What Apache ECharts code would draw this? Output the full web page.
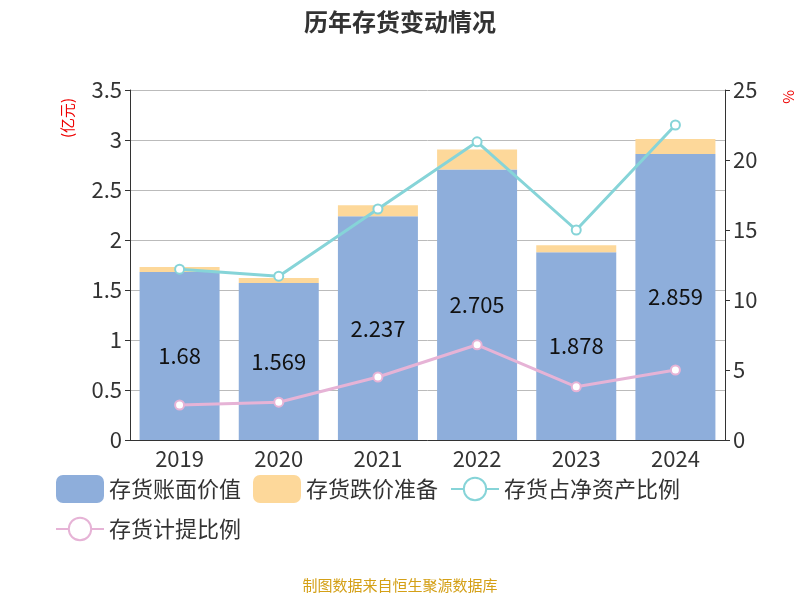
<!DOCTYPE html><html><head><meta charset="utf-8"><script src="https://cdn.jsdelivr.net/npm/echarts@6/dist/echarts.min.js"></script></head><body style="margin:0"><div id="c" style="width:800px;height:600px"></div><script>
const years=['2019','2020','2021','2022','2023','2024'];
const bookValue=[1.68,1.569,2.237,2.705,1.878,2.859];
const provision=[0.05,0.05,0.11,0.2,0.07,0.15];
const ratioNet=[12.2,11.7,16.5,21.3,15.0,22.5];
const ratioProv=[2.5,2.7,4.5,6.8,3.8,5.0];
const f='"Noto Sans CJK SC","Noto Sans",sans-serif';
const ch=echarts.init(document.getElementById('c'));
ch.setOption({
textStyle:{fontFamily:f},
title:{text:'历年存货变动情况',left:'center',top:5,textStyle:{fontSize:24,fontWeight:'bold',color:'#333'}},
graphic:[{type:'text',left:'center',top:578,style:{text:'制图数据来自恒生聚源数据库',fill:'#d4a017',fontSize:15,fontFamily:f}},
{type:'text',x:60,y:138,rotation:Math.PI/2,style:{text:'(亿元)',fill:'#e00',fontSize:15,fontFamily:f}},
{type:'text',x:796,y:90,rotation:-Math.PI/2,style:{text:'%',fill:'#e00',fontSize:15,fontFamily:f}}],
legend:{top:470,left:50,width:720,itemWidth:48,itemHeight:28,itemGap:12,textStyle:{fontSize:22,color:'#333'},
data:[{name:'存货账面价值'},{name:'存货跌价准备'},{name:'存货占净资产比例'},{name:'存货计提比例'}]},
grid:{left:130,right:75,top:90,bottom:160},
xAxis:{type:'category',data:years,axisTick:{show:false},axisLine:{lineStyle:{color:'#333'}},axisLabel:{fontSize:22,color:'#333'}},
yAxis:[{type:'value',min:0,max:3.5,interval:0.5,axisLine:{show:true,lineStyle:{color:'#333'}},axisTick:{show:true},axisLabel:{fontSize:22,color:'#333'},splitLine:{lineStyle:{color:'#bbb'}}},
{type:'value',min:0,max:25,interval:5,axisLine:{show:true,lineStyle:{color:'#333'}},axisTick:{show:true},axisLabel:{fontSize:22,color:'#333'},splitLine:{show:false}}],
series:[
{name:'存货账面价值',type:'bar',stack:'a',data:bookValue,barWidth:80,itemStyle:{color:'#8eaedb'},label:{show:true,position:'inside',fontSize:22,color:'#111'}},
{name:'存货跌价准备',type:'bar',stack:'a',data:provision,barWidth:80,itemStyle:{color:'#fdd89a'}},
{name:'存货占净资产比例',type:'line',yAxisIndex:1,data:ratioNet,symbol:'circle',symbolSize:9,lineStyle:{width:3,color:'#86d4d8'},itemStyle:{color:'#fff',borderColor:'#86d4d8',borderWidth:2}},
{name:'存货计提比例',type:'line',yAxisIndex:1,data:ratioProv,symbol:'circle',symbolSize:9,lineStyle:{width:3,color:'#e6b3d6'},itemStyle:{color:'#fff',borderColor:'#e6b3d6',borderWidth:2}}
]});
</script></body></html>
